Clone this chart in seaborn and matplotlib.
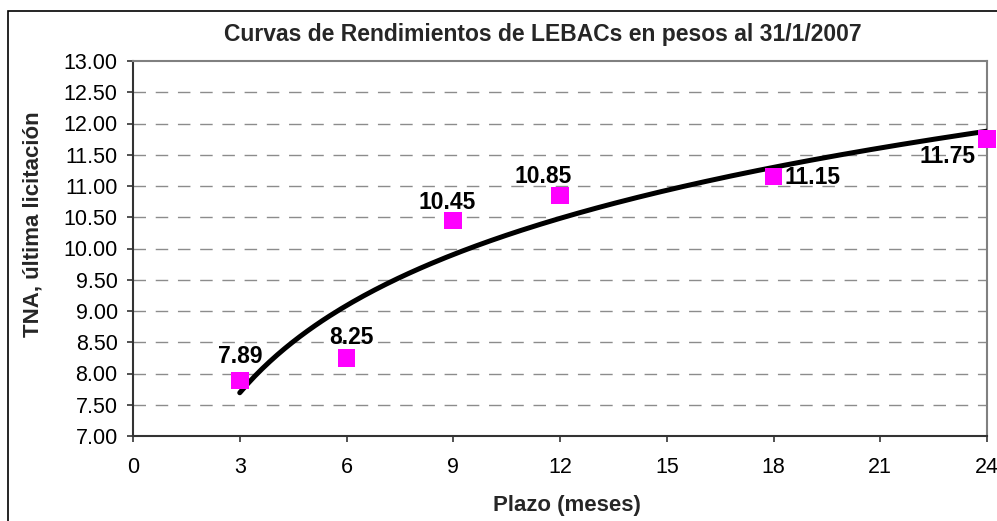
import numpy as np
import pandas as pd
import matplotlib
matplotlib.use("Agg")
import matplotlib.pyplot as plt
import seaborn as sns
from matplotlib.patches import Rectangle

# Data
plazo = [3, 6, 9, 12, 18, 24]
tna = [7.89, 8.25, 10.45, 10.85, 11.15, 11.75]
labels = ["7.89", "8.25", "10.45", "10.85", "11.15", "11.75"]
x_ticks = [0, 3, 6, 9, 12, 15, 18, 21, 24]
y_ticks = [7.00, 7.50, 8.00, 8.50, 9.00, 9.50, 10.00, 10.50, 11.00, 11.50, 12.00, 12.50, 13.00]

sns.set_theme(style="white")
plt.rcParams['font.family'] = ['Liberation Sans', 'DejaVu Sans']

W, H = 997, 521
fig = plt.figure(figsize=(W/100, H/100), dpi=100)
ax = fig.add_axes([133/W, 1-436/H, (987-133)/W, (436-61)/H])

df = pd.DataFrame({"plazo": plazo, "tna": tna})

# logarithmic trend line (like Excel)
b, a = np.polyfit(np.log(df["plazo"]), df["tna"], 1)
xs = np.linspace(min(plazo), max(plazo), 200)
trend = pd.DataFrame({"x": xs, "y": a + b*np.log(xs)})

for yv in y_ticks[1:-1]:
    ax.axhline(yv, color="#8c8c8c", lw=1.0, dashes=(9, 7), zorder=0)

sns.lineplot(data=trend, x="x", y="y", color="black", lw=3.6, ax=ax, zorder=3)
sns.scatterplot(data=df, x="plazo", y="tna", marker="s", s=160, color="#ff00ff",
                edgecolor="none", ax=ax, zorder=4, clip_on=False)

# data labels (offset in points)
corr = -1.7
offsets = [(0, 18.7, "center"), (3.6, 16.6, "center"),
           (-4.3, 14.4, "center"), (-12.2, 15.0, "center"),
           (8.0, 1.0, "left"), (-8.6, -10.8, "right")]
for x, y, lab, (dx, dy, ha) in zip(plazo, tna, labels, offsets):
    ax.annotate(lab, (x, y), xytext=(dx, dy + corr), textcoords="offset points",
                ha=ha, va="center", fontsize=16.5, fontweight="bold", color="black",
                zorder=5, annotation_clip=False)

ax.set_xlim(0, 24)
ax.set_ylim(7, 13)
ax.set_xticks(x_ticks)
ax.set_xticklabels([str(v) for v in x_ticks])
ax.set_yticks(y_ticks)
ax.set_yticklabels([f"{v:.2f}" for v in y_ticks])
ax.tick_params(axis="both", which="both", direction="out", length=4.5, width=1.2,
               color="#333333", labelsize=15.5, labelcolor="black")
ax.tick_params(axis="y", pad=6.5)
ax.tick_params(axis="x", pad=10.5)
ax.yaxis.set_ticks_position("left")
ax.xaxis.set_ticks_position("bottom")

for side in ["left", "bottom"]:
    ax.spines[side].set_color("#333333")
    ax.spines[side].set_linewidth(1.5)
for side in ["top", "right"]:
    ax.spines[side].set_color("#808080")
    ax.spines[side].set_linewidth(1.5)

ax.set_xlabel("")
ax.set_ylabel("")
fig.text(567/W, 1-505/H, "Plazo (meses)", fontsize=16, fontweight="bold",
         ha="center", va="center")
fig.text(33/W, 1-224/H, "TNA, última licitación", fontsize=16, fontweight="bold",
         ha="center", va="center", rotation=90)
fig.text(543/W, 1-35/H, "Curvas de Rendimientos de LEBACs en pesos al 31/1/2007",
         fontsize=16.5, fontweight="bold", ha="center", va="center")

# outer chart border
fig.patches.append(Rectangle((8/W, -0.05), 1.1, 1 - 11/H + 0.05,
                             transform=fig.transFigure, fill=False,
                             edgecolor="black", lw=1.2))

fig.savefig("out.png", dpi=100)
